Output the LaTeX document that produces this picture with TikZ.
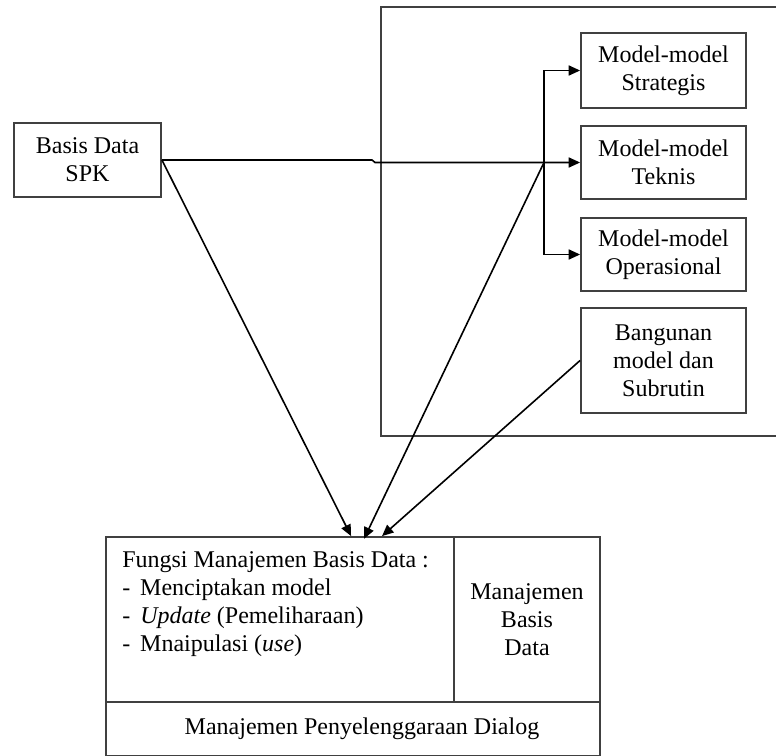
\documentclass[tikz,border=0pt]{standalone}
\usepackage{fontspec}
\setmainfont{Liberation Serif}
\usetikzlibrary{arrows.meta}
\begin{document}
\begin{tikzpicture}[x=0.75pt,y=-0.75pt,
  box/.style={draw=black!75,line width=1.4pt,align=center,inner sep=0pt,
    font=\fontsize{18}{21}\selectfont},
  plain/.style={inner sep=0pt,font=\fontsize{18}{21}\selectfont},
  conn/.style={line width=1.2pt,black},
  arr/.style={conn,-{Triangle[length=8.5pt,width=7.5pt]}}]
\useasboundingbox (0,0) rectangle (776,756);
% outer frame (open to the right)
\draw[draw=black!75,line width=1.4pt] (790,7) -- (381,7) -- (381,436) -- (790,436);
% nodes
\node[box,minimum width=110.25pt,minimum height=55.5pt] (spk) at (87.5,160) {Basis Data\\SPK};
\node[box,minimum width=123.75pt,minimum height=56.25pt] (strat) at (663.5,70.5) {Model-model\\Strategis};
\node[box,minimum width=123.75pt,minimum height=54.75pt] (tek) at (663.5,162.5) {Model-model\\Teknis};
\node[box,minimum width=123.75pt,minimum height=54.75pt] (ops) at (663.5,254.5) {Model-model\\Operasional};
\node[box,minimum width=123.75pt,minimum height=78.75pt] (bang) at (663.5,360.5) {Bangunan\\model dan\\Subrutin};
% bottom block
\node[box,minimum width=261pt,minimum height=123.75pt] (fungsi) at (280,619.5) {};
\node[box,minimum width=109.5pt,minimum height=123.75pt] (mbd) at (527,619.5) {Manajemen\\Basis\\Data};
\node[box,minimum width=370.5pt,minimum height=40.5pt] (dialog) at (353,729) {\hspace{13.5pt}Manajemen Penyelenggaraan Dialog};
\node[plain,align=left,anchor=north west] (ftext) at (122,551) {Fungsi Manajemen Basis Data :\\
\makebox[13.5pt][l]{-}Menciptakan model\\
\makebox[13.5pt][l]{-}\textit{Update} (Pemeliharaan)\\
\makebox[13.5pt][l]{-}Mnaipulasi (\textit{use})};
% connectors
\coordinate (br) at (544,162.5);
\coordinate (jog) at (372,160);
\draw[arr] (spk.east) -- (jog) -- ++(3,2.5) -- (tek.west);
\draw[arr] (br) |- (strat.west);
\draw[arr] (br) |- (ops.west);
\draw[arr] (spk.east) -- ([xshift=184.5pt]fungsi.north west);
\draw[arr] (br) -- ([xshift=194.25pt,yshift=-2pt]fungsi.north west);
\draw[arr] (bang.west) -- ([xshift=207.75pt]fungsi.north west);
\end{tikzpicture}
\end{document}
